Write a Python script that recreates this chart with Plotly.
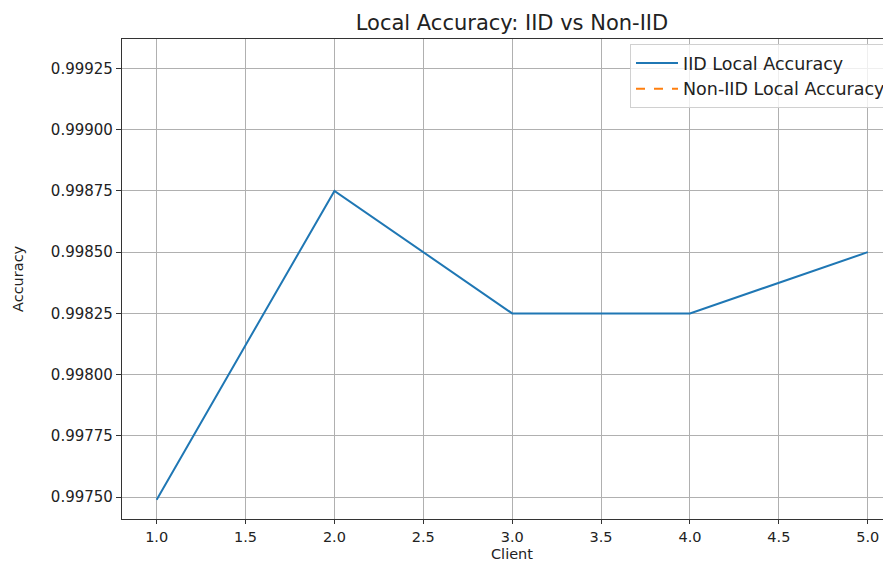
import plotly.graph_objects as go

clients = [1, 2, 3, 4, 5]
iid_acc = [0.99749, 0.99875, 0.99825, 0.99825, 0.99850]
non_iid_acc = [None, None, None, None, None]
x_ticks = [1.0, 1.5, 2.0, 2.5, 3.0, 3.5, 4.0, 4.5, 5.0]
y_ticks = [0.9975, 0.99775, 0.998, 0.99825, 0.9985, 0.99875, 0.999, 0.99925]

fig = go.Figure()
fig.add_trace(go.Scatter(x=clients, y=iid_acc, mode="lines", name="IID Local Accuracy",
                         line=dict(color="#1f77b4", width=2)))
fig.add_trace(go.Scatter(x=clients, y=non_iid_acc, mode="lines", name="Non-IID Local Accuracy",
                         line=dict(color="#ff7f0e", width=2, dash="dash")))

font = "DejaVu Sans"
OFF = 8  # page body margin
W, H = 891 - OFF, 561 - OFF
L, T = 122 - OFF, 39 - OFF
B = H - (519 - OFF)
pw, ph = W - L, H - T - B
fc = "#222222"
fig.update_layout(
    width=W, height=H,
    margin=dict(l=L, r=0, t=T, b=B, autoexpand=False),
    paper_bgcolor="white", plot_bgcolor="white",
    font=dict(family=font, color=fc, size=14),
    title=dict(text="Local Accuracy: IID vs Non-IID", x=(512 - OFF) / W, xref="container",
               xanchor="center", y=1 - (23 - OFF) / H, yref="container", yanchor="middle",
               automargin=False,
               font=dict(size=21, family=font, color=fc)),
    legend=dict(x=(630 - 122) / pw, y=1 - 5 / ph, xanchor="left", yanchor="top",
                bgcolor="rgba(255,255,255,0.8)", bordercolor="#d0d0d0", borderwidth=1,
                font=dict(size=17.5, family=font, color=fc),
                tracegroupgap=0, itemwidth=42),
    showlegend=True,
    annotations=[
        dict(text="Client", xref="paper", yref="paper", x=(512 - 122) / pw,
             y=-(554 - 519) / ph, xanchor="center", yanchor="middle", showarrow=False,
             font=dict(size=14.5, family=font, color=fc)),
        dict(text="Accuracy", xref="paper", yref="paper", x=-(122 - 18) / pw,
             y=0.5, xanchor="center", yanchor="middle", showarrow=False, textangle=-90,
             font=dict(size=14.5, family=font, color=fc)),
    ],
)
fig.update_xaxes(
    range=[0.805, 5.131], tickvals=x_ticks, ticktext=[f"{v:.1f}" for v in x_ticks],
    showgrid=True, gridcolor="#b0b0b0", gridwidth=1, zeroline=False,
    showline=True, linecolor="#333333", linewidth=1.2, mirror=True,
    ticks="outside", ticklen=4, tickcolor="#333333", automargin=False,
    tickfont=dict(size=14.5, family=font, color=fc),
)
fig.update_yaxes(
    range=[0.997411, 0.99937], tickvals=y_ticks, ticktext=[f"{v:.5f}" for v in y_ticks],
    showgrid=True, gridcolor="#b0b0b0", gridwidth=1, zeroline=False,
    showline=True, linecolor="#333333", linewidth=1.2, mirror=False,
    ticks="outside", ticklen=5, tickcolor="#333333", automargin=False,
    tickfont=dict(size=15, family=font, color=fc),
)
fig.write_html("out.html")
